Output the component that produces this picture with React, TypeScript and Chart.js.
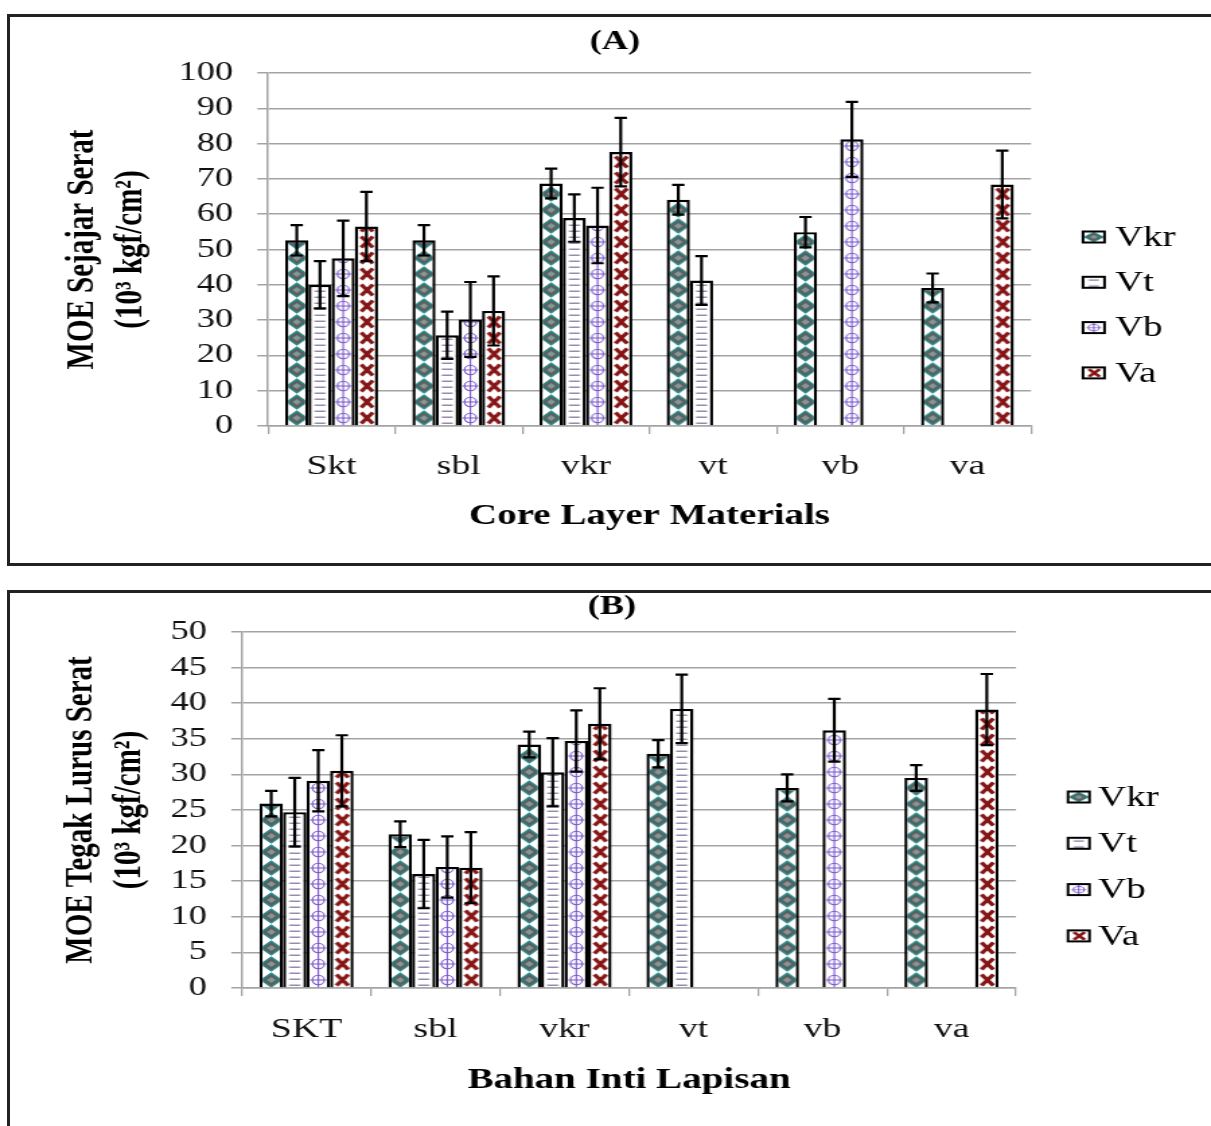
import React, { useEffect, useRef } from 'react';
import { Chart, registerables } from 'chart.js';

Chart.register(...registerables);

// ---------------- DATA ----------------
const seriesNames = ['Vkr', 'Vt', 'Vb', 'Va'];

const categoriesA = ['Skt', 'sbl', 'vkr', 'vt', 'vb', 'va'];
const vkrA = [52.6, 52.6, 68.7, 64.1, 54.9, 39.1];
const vtA = [40.0, 25.7, 58.9, 41.2, null, null];
const vbA = [47.5, 30.2, 56.8, null, 81.2, null];
const vaA = [56.5, 32.6, 77.6, null, null, 68.4];
const vkrErrA = [4.3, 4.3, 4.2, 4.2, 4.3, 4.1];
const vtErrA = [6.7, 6.7, 6.7, 6.9, null, null];
const vbErrA = [10.7, 10.6, 10.7, null, 10.6, null];
const vaErrA = [9.8, 9.8, 9.7, null, null, 9.6];
const yMaxA = 100;
const yStepA = 10;

const categoriesB = ['SKT', 'sbl', 'vkr', 'vt', 'vb', 'va'];
const vkrB = [25.9, 21.6, 34.2, 32.9, 28.1, 29.5];
const vtB = [24.7, 16.0, 30.3, 39.2, null, null];
const vbB = [29.1, 17.0, 34.7, null, 36.2, null];
const vaB = [30.5, 16.9, 37.1, null, null, 39.1];
const vkrErrB = [1.8, 1.8, 1.8, 1.9, 1.9, 1.8];
const vtErrB = [4.8, 4.8, 4.8, 4.8, null, null];
const vbErrB = [4.3, 4.3, 4.3, null, 4.4, null];
const vaErrB = [5.0, 5.0, 5.0, null, null, 5.0];
const yMaxB = 50;
const yStepB = 5;

// ---------------- LAYOUT ----------------
const PAGE_W = 1211;
const CW = 900; // canvas drawing width, stretched horizontally to page width
const S = PAGE_W / CW;
const CAT_PCT = 0.73;
const SERIF = "'Liberation Serif', 'Times New Roman', serif";

// ---------------- PATTERNS ----------------
const tileCache: Record<string, HTMLCanvasElement> = {};
function diamond(g: CanvasRenderingContext2D, cx: number, cy: number, rx: number, ry: number, col: string) {
  g.fillStyle = col;
  g.beginPath();
  g.moveTo(cx, cy - ry);
  g.lineTo(cx + rx, cy);
  g.lineTo(cx, cy + ry);
  g.lineTo(cx - rx, cy);
  g.closePath();
  g.fill();
}
function getTile(kind: string): HTMLCanvasElement {
  if (tileCache[kind]) return tileCache[kind];
  const c = document.createElement('canvas');
  c.width = 17;
  c.height = kind === 'Vt' ? 6 : 16;
  const g = c.getContext('2d') as CanvasRenderingContext2D;
  g.fillStyle = '#ffffff';
  g.fillRect(0, 0, c.width, c.height);
  if (kind === 'Vkr') {
    diamond(g, 8.5, 8, 8.3, 7.8, '#2a8787');
    diamond(g, 8.5, 8, 6.2, 5.8, '#56605f');
    diamond(g, 8.5, 8, 3.2, 3.0, '#8a9494');
  } else if (kind === 'Vt') {
    g.fillStyle = '#968bab';
    g.fillRect(4.5, 2.5, 8, 1.5);
  } else if (kind === 'Vb') {
    g.strokeStyle = '#7a56cc';
    g.lineWidth = 1.1;
    g.beginPath();
    g.moveTo(8.5, 0);
    g.lineTo(8.5, 16);
    g.moveTo(2.6, 8);
    g.lineTo(14.4, 8);
    g.stroke();
    g.beginPath();
    g.ellipse(8.5, 8, 4.3, 4.8, 0, 0, Math.PI * 2);
    g.stroke();
  } else {
    g.strokeStyle = '#861414';
    g.lineWidth = 3.2;
    g.beginPath();
    g.moveTo(4.6, 2.6);
    g.lineTo(13.2, 13.4);
    g.moveTo(13.2, 2.6);
    g.lineTo(4.6, 13.4);
    g.stroke();
  }
  tileCache[kind] = c;
  return c;
}

function patternFill(kind: string) {
  return (c: any) => {
    const chart = c.chart;
    const tile = getTile(kind);
    const pat = chart.ctx.createPattern(tile, 'repeat') as CanvasPattern;
    const xs = chart.scales && chart.scales.x;
    const ys = chart.scales && chart.scales.y;
    if (!xs || !ys || c.dataIndex === undefined) return pat;
    const n = chart.data.labels.length;
    const catW = (xs.right - xs.left) / n;
    const groupW = catW * CAT_PCT;
    const bw = groupW / chart.data.datasets.length;
    const center = xs.getPixelForValue(c.dataIndex);
    const left = center - groupW / 2 + c.datasetIndex * bw;
    const base = ys.getPixelForValue(0);
    try {
      pat.setTransform(new DOMMatrix().translate(left, base).scale(bw / tile.width, 1));
    } catch (e) {
      /* ignore */
    }
    return pat;
  };
}

// ---------------- PLUGINS ----------------
const errorBarPlugin = {
  id: 'errorBars',
  afterDatasetsDraw(chart: any) {
    const ys = chart.scales.y;
    const ctx = chart.ctx as CanvasRenderingContext2D;
    ctx.save();
    ctx.strokeStyle = '#000000';
    ctx.lineWidth = 2.2;
    const cap = 4.6;
    chart.data.datasets.forEach((ds: any, i: number) => {
      const meta = chart.getDatasetMeta(i);
      meta.data.forEach((el: any, j: number) => {
        const v = ds.data[j];
        const e = ds.errors ? ds.errors[j] : null;
        if (v == null || e == null) return;
        const x = el.x;
        const y1 = ys.getPixelForValue(v + e);
        const y2 = ys.getPixelForValue(v - e);
        ctx.beginPath();
        ctx.moveTo(x, y1);
        ctx.lineTo(x, y2);
        ctx.moveTo(x - cap, y1);
        ctx.lineTo(x + cap, y1);
        ctx.moveTo(x - cap, y2);
        ctx.lineTo(x + cap, y2);
        ctx.stroke();
      });
    });
    ctx.restore();
  },
};

function makeDecorPlugin(title: string, titleX: number, titleY: number, legX: number, legTextX: number, legY0: number, legDy: number) {
  return {
    id: 'decor',
    afterDraw(chart: any) {
      const ctx = chart.ctx as CanvasRenderingContext2D;
      ctx.save();
      ctx.fillStyle = '#000';
      ctx.font = `bold 27px ${SERIF}`;
      ctx.textAlign = 'center';
      ctx.textBaseline = 'middle';
      ctx.fillText(title, titleX, titleY);
      // legend
      const sw = 16;
      const sh = 11;
      chart.data.datasets.forEach((ds: any, i: number) => {
        const yc = legY0 + i * legDy;
        const kind = seriesNames[i];
        const tile = getTile(kind);
        const pat = ctx.createPattern(tile, 'repeat') as CanvasPattern;
        try {
          const sy = kind === 'Vt' ? 1 : sh / tile.height;
          pat.setTransform(new DOMMatrix().translate(legX, yc - sh / 2).scale(sw / tile.width, sy));
        } catch (e) {
          /* ignore */
        }
        ctx.fillStyle = pat;
        ctx.fillRect(legX, yc - sh / 2, sw, sh);
        ctx.strokeStyle = '#000';
        ctx.lineWidth = 2;
        ctx.strokeRect(legX, yc - sh / 2, sw, sh);
        ctx.fillStyle = '#000';
        ctx.font = `29px ${SERIF}`;
        ctx.textAlign = 'left';
        ctx.textBaseline = 'middle';
        ctx.fillText(ds.label, legTextX, yc + 1);
      });
      ctx.restore();
    },
  };
}

// ---------------- PANEL ----------------
type PanelCfg = {
  pageTop: number;
  height: number;
  labels: string[];
  values: (number | null)[][];
  errors: (number | null)[][];
  yMax: number;
  yStep: number;
  yTitle: string[];
  xTitle: string;
  title: string;
  areaLeft: number;
  areaRight: number;
  areaTop: number;
  areaBottom: number;
  yTitleLine1: number;
  xTitleCenter: number;
  xLabelGap: number;
  titleX: number;
  titleY: number;
  legX: number;
  legTextX: number;
  legY0: number;
  legDy: number;
};

function Panel({ cfg }: { cfg: PanelCfg }) {
  const ref = useRef<HTMLCanvasElement>(null);
  useEffect(() => {
    const canvas = ref.current;
    if (!canvas) return;
    const H = cfg.height;
    const left = cfg.areaLeft / S;
    const right = cfg.areaRight / S;
    const top = cfg.areaTop - cfg.pageTop;
    const bottom = cfg.areaBottom - cfg.pageTop;
    const yTitleLH = 29 * 1.25;
    const pl = cfg.yTitleLine1 / S - yTitleLH / 2;
    const yWidth = left - pl;
    const xTitleLH = 29 * 1.2;
    const xScaleBottom = cfg.xTitleCenter - cfg.pageTop + xTitleLH / 2;
    const pb = H - xScaleBottom;
    const xHeight = xScaleBottom - bottom;
    const xTickFont = 28;
    const yTickFont = 27;
    const xTickPad = cfg.xLabelGap - 8 - (xTickFont * 1.2) / 2;

    const datasets = seriesNames.map((name, i) => ({
      label: name,
      data: cfg.values[i],
      errors: cfg.errors[i],
      backgroundColor: patternFill(name),
      borderColor: '#000000',
      borderWidth: 2.4,
      categoryPercentage: CAT_PCT,
      barPercentage: 1.0,
    }));

    const chart = new Chart(canvas, {
      type: 'bar',
      data: { labels: cfg.labels, datasets: datasets as any },
      options: {
        responsive: false,
        animation: false,
        devicePixelRatio: 1,
        layout: { padding: { left: pl, right: CW - right, top: top, bottom: pb } },
        plugins: {
          legend: { display: false },
          title: { display: false },
          tooltip: { enabled: false },
        },
        scales: {
          x: {
            offset: true,
            grid: {
              display: true,
              offset: true,
              drawOnChartArea: false,
              drawTicks: true,
              tickLength: 8,
              color: '#a3a3a3',
              lineWidth: 1.3,
            },
            border: { display: true, color: '#a3a3a3', width: 1.5 },
            ticks: {
              color: '#111',
              font: { family: SERIF, size: xTickFont, lineHeight: 1.2 },
              padding: xTickPad,
              maxRotation: 0,
              autoSkip: false,
            },
            title: {
              display: true,
              text: cfg.xTitle,
              color: '#000',
              font: { family: SERIF, size: 29, weight: 'bold', lineHeight: 1.2 },
              padding: 0,
            },
            afterFit: (scale: any) => {
              scale.height = xHeight;
            },
          },
          y: {
            min: 0,
            max: cfg.yMax,
            grid: {
              color: '#a3a3a3',
              lineWidth: 1.5,
              drawTicks: true,
              tickLength: 8,
            },
            border: { display: true, color: '#a3a3a3', width: 1.5 },
            ticks: {
              stepSize: cfg.yStep,
              autoSkip: false,
              color: '#111',
              font: { family: SERIF, size: yTickFont, lineHeight: 1.2 },
              padding: 18,
            },
            title: {
              display: true,
              text: cfg.yTitle,
              color: '#000',
              font: { family: SERIF, size: 29, weight: 'bold', lineHeight: 1.25 },
              padding: 0,
            },
            afterFit: (scale: any) => {
              scale.width = yWidth;
            },
          },
        },
      } as any,
      plugins: [
        errorBarPlugin as any,
        makeDecorPlugin(
          cfg.title,
          cfg.titleX / S,
          cfg.titleY - cfg.pageTop,
          cfg.legX / S,
          cfg.legTextX / S,
          cfg.legY0 - cfg.pageTop,
          cfg.legDy
        ) as any,
      ],
    });
    return () => chart.destroy();
  }, [cfg]);

  return (
    <canvas
      ref={ref}
      width={CW}
      height={cfg.height}
      style={{
        position: 'absolute',
        left: 0,
        top: cfg.pageTop,
        transform: `scaleX(${S})`,
        transformOrigin: '0 0',
      }}
    />
  );
}

const cfgA: PanelCfg = {
  pageTop: 0,
  height: 580,
  labels: categoriesA,
  values: [vkrA, vtA, vbA, vaA],
  errors: [vkrErrA, vtErrA, vbErrA, vaErrA],
  yMax: yMaxA,
  yStep: yStepA,
  yTitle: ['MOE Sejajar Serat', '(10³ kgf/cm²)'],
  xTitle: 'Core Layer Materials',
  title: '(A)',
  areaLeft: 268,
  areaRight: 1031,
  areaTop: 73,
  areaBottom: 426,
  yTitleLine1: 82.5,
  xTitleCenter: 517,
  xLabelGap: 41,
  titleX: 615,
  titleY: 42,
  legX: 1083,
  legTextX: 1115,
  legY0: 237,
  legDy: 45.3,
};

const cfgB: PanelCfg = {
  pageTop: 580,
  height: 546,
  labels: categoriesB,
  values: [vkrB, vtB, vbB, vaB],
  errors: [vkrErrB, vtErrB, vbErrB, vaErrB],
  yMax: yMaxB,
  yStep: yStepB,
  yTitle: ['MOE Tegak Lurus Serat', '(10³ kgf/cm²)'],
  xTitle: 'Bahan Inti Lapisan',
  title: '(B)',
  areaLeft: 242,
  areaRight: 1016,
  areaTop: 632,
  areaBottom: 988,
  yTitleLine1: 81,
  xTitleCenter: 1081,
  xLabelGap: 42,
  titleX: 612,
  titleY: 607,
  legX: 1068,
  legTextX: 1098,
  legY0: 797,
  legDy: 46.3,
};

export default function App() {
  return (
    <div
      style={{
        position: 'fixed',
        left: 0,
        top: 0,
        width: PAGE_W,
        height: 1126,
        overflow: 'hidden',
        background: '#ffffff',
      }}
    >
      <Panel cfg={cfgA} />
      <Panel cfg={cfgB} />
      <div
        style={{
          position: 'absolute',
          left: 7,
          top: 14,
          width: 1300,
          height: 552,
          border: '3px solid #222',
          boxSizing: 'border-box',
          pointerEvents: 'none',
        }}
      />
      <div
        style={{
          position: 'absolute',
          left: 7,
          top: 590,
          width: 1300,
          height: 700,
          border: '3px solid #222',
          boxSizing: 'border-box',
          pointerEvents: 'none',
        }}
      />
    </div>
  );
}
